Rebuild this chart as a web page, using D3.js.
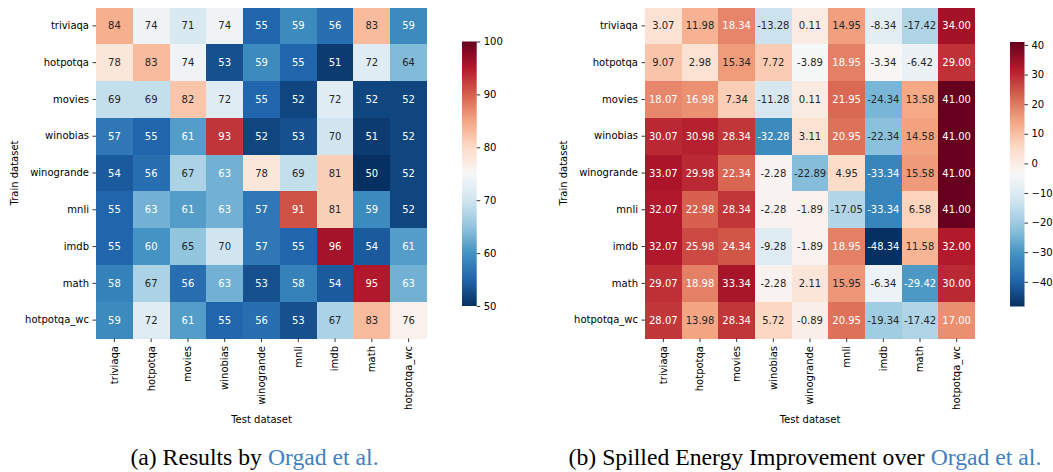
<!DOCTYPE html>
<html>
<head>
<meta charset="utf-8">
<script src="https://cdn.jsdelivr.net/npm/d3@7"></script>
<style>
  html, body { margin: 0; padding: 0; background: #fff; }
  svg { display: block; }
  .sans { font-family: "DejaVu Sans", sans-serif; }
  .serif { font-family: "Liberation Serif", "Times New Roman", serif; }
</style>
</head>
<body>
<svg id="chart" width="1053" height="472"></svg>
<script>
// ---------------- data ----------------
const trainSets = ["triviaqa","hotpotqa","movies","winobias","winogrande","mnli","imdb","math","hotpotqa_wc"];
const testSets  = ["triviaqa","hotpotqa","movies","winobias","winogrande","mnli","imdb","math","hotpotqa_wc"];

// (a) Results by Orgad et al. (rows = train, cols = test)
const orgadValues = [
  [84, 74, 71, 74, 55, 59, 56, 83, 59],
  [78, 83, 74, 53, 59, 55, 51, 72, 64],
  [69, 69, 82, 72, 55, 52, 72, 52, 52],
  [57, 55, 61, 93, 52, 53, 70, 51, 52],
  [54, 56, 67, 63, 78, 69, 81, 50, 52],
  [55, 63, 61, 63, 57, 91, 81, 59, 52],
  [55, 60, 65, 70, 57, 55, 96, 54, 61],
  [58, 67, 56, 63, 53, 58, 54, 95, 63],
  [59, 72, 61, 55, 56, 53, 67, 83, 76]
];

// (b) Spilled Energy improvement over Orgad et al.
const improvementValues = [
  [ 3.07, 11.98, 18.34, -13.28,   0.11,  14.95,  -8.34, -17.42, 34.00],
  [ 9.07,  2.98, 15.34,   7.72,  -3.89,  18.95,  -3.34,  -6.42, 29.00],
  [18.07, 16.98,  7.34, -11.28,   0.11,  21.95, -24.34,  13.58, 41.00],
  [30.07, 30.98, 28.34, -32.28,   3.11,  20.95, -22.34,  14.58, 41.00],
  [33.07, 29.98, 22.34,  -2.28, -22.89,   4.95, -33.34,  15.58, 41.00],
  [32.07, 22.98, 28.34,  -2.28,  -1.89, -17.05, -33.34,   6.58, 41.00],
  [32.07, 25.98, 24.34,  -9.28,  -1.89,  18.95, -48.34,  11.58, 32.00],
  [29.07, 18.98, 33.34,  -2.28,   2.11,  15.95,  -6.34, -29.42, 30.00],
  [28.07, 13.98, 28.34,   5.72,  -0.89,  20.95, -19.34, -17.42, 17.00]
];

const orgadTicks = [50, 60, 70, 80, 90, 100];
const improvementTicks = [-40, -30, -20, -10, 0, 10, 20, 30, 40];

const xLabel = "Test dataset";
const yLabel = "Train dataset";
const captionA = ["(a) Results by ", "Orgad et al."];
const captionB = ["(b) Spilled Energy Improvement over ", "Orgad et al."];

// matplotlib RdBu_r anchor colours
const rdbuR = ["#053061","#2166ac","#4393c3","#92c5de","#d1e5f0","#f7f7f7",
               "#fddbc7","#f4a582","#d6604d","#b2182b","#67001f"];

// ---------------- helpers ----------------
const svg = d3.select("#chart");
const cmapT = d3.scaleLinear()
  .domain(d3.range(rdbuR.length).map(i => i / (rdbuR.length - 1)))
  .range(rdbuR)
  .interpolate(d3.interpolateRgb)
  .clamp(true);

function textColorFor(c) {
  const rgb = d3.rgb(c);
  const lin = v => { v /= 255; return v <= 0.03928 ? v / 12.92 : Math.pow((v + 0.055) / 1.055, 2.4); };
  const lum = 0.2126 * lin(rgb.r) + 0.7152 * lin(rgb.g) + 0.0722 * lin(rgb.b);
  return lum > 0.408 ? "#262626" : "#ffffff";
}

function drawHeatmap(opt) {
  const { values, x0, x1, y0, y1, fmt, cb, ticks, vmin, vmax, idx } = opt;
  const colorOf = v => cmapT((v - vmin) / (vmax - vmin));
  const g = svg.append("g").attr("class", "sans");
  const xs = d3.scaleBand().domain(testSets).range([x0, x1]);
  const ys = d3.scaleBand().domain(trainSets).range([y0, y1]);

  const cells = [];
  values.forEach((row, i) => row.forEach((v, j) => cells.push({ r: trainSets[i], c: testSets[j], v })));

  g.selectAll("rect.cell").data(cells).join("rect")
    .attr("class", "cell")
    .attr("x", d => xs(d.c))
    .attr("y", d => ys(d.r))
    .attr("width", xs.bandwidth() + 0.4)
    .attr("height", ys.bandwidth() + 0.4)
    .attr("fill", d => colorOf(d.v))
    .attr("shape-rendering", "crispEdges");

  g.selectAll("text.ann").data(cells).join("text")
    .attr("class", "ann")
    .attr("x", d => xs(d.c) + xs.bandwidth() / 2)
    .attr("y", d => ys(d.r) + ys.bandwidth() / 2)
    .attr("dy", "0.36em")
    .attr("text-anchor", "middle")
    .attr("font-size", 10)
    .attr("fill", d => textColorFor(colorOf(d.v)))
    .text(d => fmt(d.v));

  // y axis
  const ya = g.append("g").attr("transform", `translate(${x0},0)`)
    .call(d3.axisLeft(ys).tickSize(3.5).tickPadding(3.5));
  ya.attr("font-family", null);
  ya.select(".domain").remove();
  ya.selectAll("line").attr("stroke", "#000").attr("stroke-width", 0.8);
  ya.selectAll("text").attr("font-size", 10).attr("fill", "#000");

  // x axis
  const xa = g.append("g").attr("transform", `translate(0,${y1})`)
    .call(d3.axisBottom(xs).tickSize(3.5).tickPadding(3.5));
  xa.attr("font-family", null);
  xa.select(".domain").remove();
  xa.selectAll("line").attr("stroke", "#000").attr("stroke-width", 0.8);
  xa.selectAll("text")
    .attr("font-size", 10).attr("fill", "#000")
    .attr("transform", "rotate(-90)")
    .attr("text-anchor", "end")
    .attr("x", -7.5)
    .attr("y", 0)
    .attr("dy", "0.34em");

  // axis titles
  g.append("text")
    .attr("x", (x0 + x1) / 2).attr("y", 423)
    .attr("text-anchor", "middle").attr("font-size", 10).attr("fill", "#000")
    .text(xLabel);
  g.append("text")
    .attr("transform", `translate(${opt.ylabelX},${(y0 + y1) / 2}) rotate(-90)`)
    .attr("text-anchor", "middle").attr("dy", "0.35em").attr("font-size", 10).attr("fill", "#000")
    .text(yLabel);

  // colorbar
  const cs = d3.scaleLinear().domain([vmin, vmax]).range([cb.y1, cb.y0]);
  const gid = "grad" + idx;
  const grad = svg.append("defs").append("linearGradient")
    .attr("id", gid).attr("x1", 0).attr("x2", 0).attr("y1", 1).attr("y2", 0);
  const N = 64;
  grad.selectAll("stop").data(d3.range(N + 1)).join("stop")
    .attr("offset", k => k / N)
    .attr("stop-color", k => colorOf(vmin + (vmax - vmin) * k / N));
  g.append("rect")
    .attr("x", cb.x).attr("y", cb.y0)
    .attr("width", cb.w).attr("height", cb.y1 - cb.y0)
    .attr("fill", `url(#${gid})`);
  const ca = g.append("g").attr("transform", `translate(${cb.x + cb.w},0)`)
    .call(d3.axisRight(cs).tickValues(ticks).tickSize(3.5).tickPadding(3.5));
  ca.attr("font-family", null);
  ca.select(".domain").remove();
  ca.selectAll("line").attr("stroke", "#000").attr("stroke-width", 0.8);
  ca.selectAll("text").attr("font-size", 10).attr("fill", "#000");

  // caption
  const cap = svg.append("text")
    .attr("class", "serif")
    .attr("x", opt.capX).attr("y", 465)
    .attr("text-anchor", "middle")
    .attr("font-size", 23.7)
    .attr("fill", "#000");
  cap.append("tspan").text(opt.caption[0]);
  cap.append("tspan").attr("fill", "#3f80c2").text(opt.caption[1]);
}

// (a)
drawHeatmap({
  idx: 0,
  values: orgadValues,
  x0: 96, x1: 427, y0: 7.5, y1: 338.5,
  fmt: v => d3.format("d")(v),
  cb: { x: 462, w: 14.7, y0: 41.5, y1: 306 },
  ticks: orgadTicks, vmin: 50, vmax: 100,
  ylabelX: 14,
  capX: 254.5,
  caption: captionA
});

// (b)
const flatB = improvementValues.flat();
drawHeatmap({
  idx: 1,
  values: improvementValues,
  x0: 645, x1: 975, y0: 7.5, y1: 338.5,
  fmt: v => v.toFixed(2),
  cb: { x: 1010, w: 14.5, y0: 42, y1: 306.5 },
  ticks: improvementTicks, vmin: d3.min(flatB), vmax: d3.max(flatB),
  ylabelX: 563,
  capX: 805,
  caption: captionB
});
</script>
</body>
</html>
